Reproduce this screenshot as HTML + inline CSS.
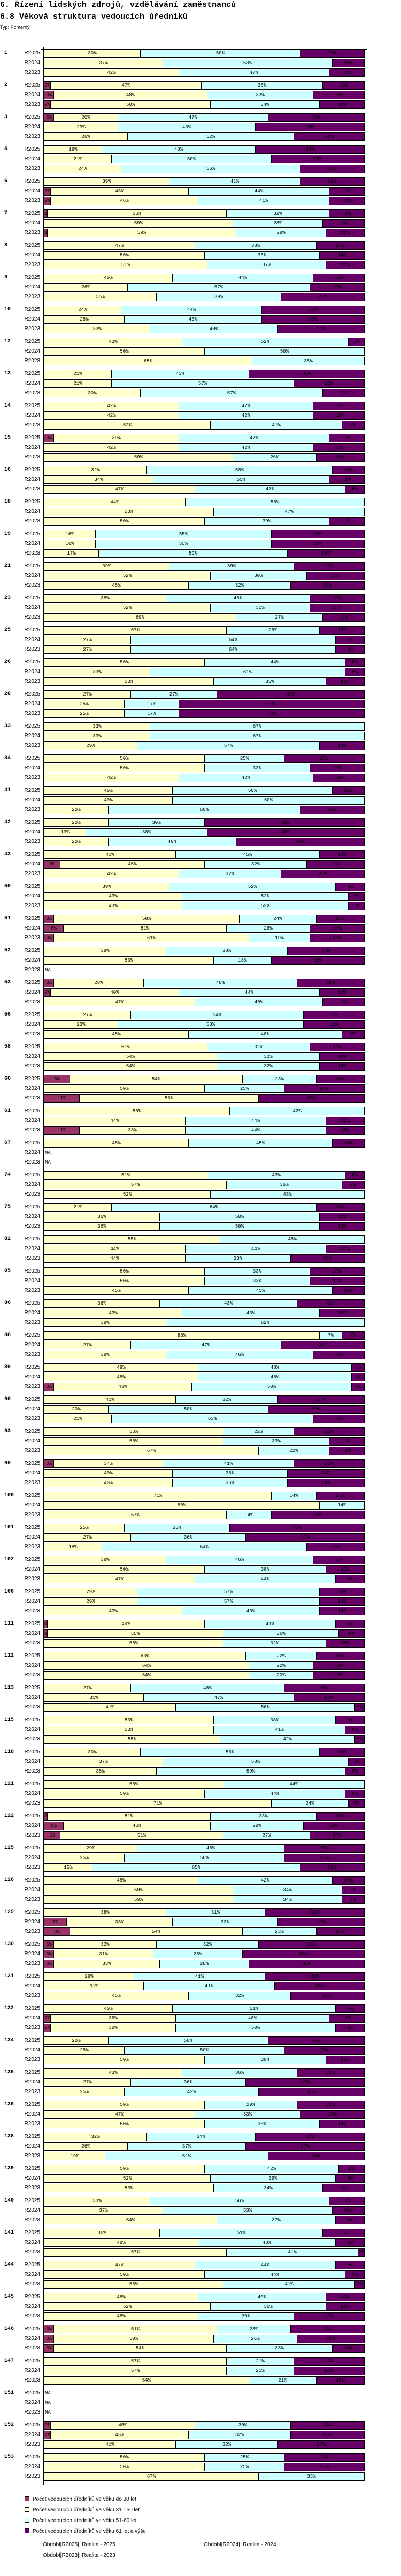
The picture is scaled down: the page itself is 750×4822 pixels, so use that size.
<!DOCTYPE html>
<html><head><meta charset="utf-8">
<style>
body{margin:0;background:#fff;width:750px;height:4822px;position:relative;overflow:hidden;font-family:"Liberation Sans",sans-serif;}
.abs{position:absolute;}
.t1{left:0;font:bold 15px "Liberation Mono",monospace;white-space:nowrap;}
.seg{position:absolute;box-sizing:border-box;border:1px solid #000;height:16px;overflow:hidden;text-align:center;font:9px/14px "Liberation Mono",monospace;color:#000;white-space:nowrap;}
.glab{position:absolute;left:8px;font:bold 10px "Liberation Mono",monospace;}
.ylab{position:absolute;left:30px;width:45px;text-align:right;font:10px "Liberation Sans",sans-serif;}
.na{position:absolute;left:84px;font:9px "Liberation Mono",monospace;}
.leg{position:absolute;left:46px;font:10px "Liberation Sans",sans-serif;white-space:nowrap;}
.leg i{display:inline-block;width:7px;height:7px;border:1px solid #000;margin-right:6px;vertical-align:-1px;}
.per{position:absolute;font:10px "Liberation Sans",sans-serif;white-space:nowrap;}
</style></head><body>
<div class="abs t1" style="top:1px">6. Řízení lidských zdrojů, vzdělávání zaměstnanců</div>
<div class="abs t1" style="top:23px">6.8 Věková struktura vedoucích úředníků</div>
<div class="abs" style="top:46px;left:0;font:9px 'Liberation Sans',sans-serif">Typ: Poměrný</div>
<div id="chart"></div>
<div class="abs" style="left:80px;top:88px;width:2px;height:4564px;background:#000"></div>
<div class="abs" style="left:76px;top:92px;width:610px;height:1px;background:#000"></div>
<div class="leg" style="top:4673px"><i style="background:#993366"></i>Počet vedoucích úředníků ve věku do 30 let</div>
<div class="leg" style="top:4693px"><i style="background:#FFFFCC"></i>Počet vedoucích úředníků ve věku 31 - 50 let</div>
<div class="leg" style="top:4713px"><i style="background:#CCFFFF"></i>Počet vedoucích úředníků ve věku 51-60 let</div>
<div class="leg" style="top:4733px"><i style="background:#660066"></i>Počet vedoucích úředníků ve věku 61 let a výše</div>
<div class="per" style="left:80px;top:4758px">Období[R2025]: Realita - 2025</div>
<div class="per" style="left:381px;top:4758px">Období[R2024]: Realita - 2024</div>
<div class="per" style="left:80px;top:4778px">Období[R2023]: Realita - 2023</div>
<script>
const groups=[1,2,3,5,6,7,8,9,10,12,13,14,15,16,18,19,21,23,25,26,28,33,34,41,42,43,50,51,52,53,56,58,60,61,67,74,75,82,85,86,88,89,90,93,96,100,101,102,106,111,112,113,115,118,121,122,125,126,129,130,131,132,134,135,136,138,139,140,141,144,145,146,147,151,152,153];
const periods=["R2025","R2024","R2023"];
const seriesColors=["#993366","#FFFFCC","#CCFFFF","#660066"];
const rows=[
[[0,30,50,20],[0,37,53,10],[0,42,47,11]],
[[2,47,38,13],[3,48,33,16],[2,50,34,14]],
[[3,20,47,30],[0,23,43,34],[0,26,52,22]],
[[0,18,48,34],[0,21,50,29],[0,24,56,20]],
[[0,39,41,20],[2,43,44,11],[2,46,41,11]],
[[1,56,32,11],[0,59,28,13],[1,59,28,12]],
[[0,47,38,15],[0,50,36,14],[0,51,37,12]],
[[0,40,44,16],[0,26,57,17],[0,35,39,26]],
[[0,24,44,32],[0,25,43,32],[0,33,40,27]],
[[0,43,52,5],[0,50,50,0],[0,65,35,0]],
[[0,21,43,36],[0,21,57,22],[0,30,57,13]],
[[0,42,42,16],[0,42,42,16],[0,52,41,7]],
[[3,39,47,11],[0,42,42,16],[0,59,26,15]],
[[0,32,58,10],[0,34,55,11],[0,47,47,6]],
[[0,44,56,0],[0,53,47,0],[0,50,39,11]],
[[0,16,55,29],[0,16,55,29],[0,17,59,24]],
[[0,39,39,22],[0,52,30,18],[0,45,32,23]],
[[0,38,45,17],[0,52,31,17],[0,60,27,13]],
[[0,57,29,14],[0,27,64,9],[0,27,64,9]],
[[0,50,44,6],[0,33,61,6],[0,53,35,12]],
[[0,27,27,46],[0,25,17,58],[0,25,17,58]],
[[0,33,67,0],[0,33,67,0],[0,29,57,14]],
[[0,50,25,25],[0,50,33,17],[0,42,42,16]],
[[0,40,50,10],[0,40,60,0],[0,20,60,20]],
[[0,20,30,50],[0,13,38,49],[0,20,40,40]],
[[0,41,45,14],[5,45,32,18],[0,42,32,26]],
[[0,39,52,9],[0,43,52,5],[0,43,52,5]],
[[3,58,24,15],[6,51,26,17],[3,61,19,17]],
[[0,38,38,24],[0,53,18,29],null],
[[3,28,48,21],[2,40,44,14],[0,47,40,13]],
[[0,27,54,19],[0,23,58,19],[0,45,48,7]],
[[0,51,32,17],[0,54,32,14],[0,54,32,14]],
[[8,54,23,15],[0,50,25,25],[11,56,0,33]],
[[0,58,42,0],[0,44,44,12],[11,33,44,12]],
[[0,45,45,10],null,null],
[[0,51,43,6],[0,57,36,7],[0,52,48,0]],
[[0,21,64,15],[0,36,50,14],[0,36,50,14]],
[[0,55,45,0],[0,44,44,12],[0,44,33,23]],
[[0,50,33,17],[0,50,33,17],[0,45,45,10]],
[[0,36,43,21],[0,43,43,14],[0,38,62,0]],
[[0,86,7,7],[0,27,47,26],[0,38,46,16]],
[[0,48,48,4],[0,48,48,4],[3,43,50,4]],
[[0,41,32,27],[0,20,50,30],[0,21,63,16]],
[[0,56,22,22],[0,56,33,11],[0,67,22,11]],
[[3,34,41,22],[0,40,36,24],[0,40,36,24]],
[[0,71,14,15],[0,86,14,0],[0,57,14,29]],
[[0,25,33,42],[0,27,36,37],[0,18,64,18]],
[[0,38,46,16],[0,50,38,12],[0,47,44,9]],
[[0,29,57,14],[0,29,57,14],[0,43,43,14]],
[[1,49,41,9],[1,55,36,8],[0,56,32,12]],
[[0,63,22,15],[0,64,20,16],[0,64,20,16]],
[[0,27,48,25],[0,31,47,22],[0,41,56,3]],
[[0,53,38,9],[0,53,41,6],[0,55,42,3]],
[[0,30,56,14],[0,37,58,5],[0,35,59,6]],
[[0,56,44,0],[0,50,44,6],[0,71,24,5]],
[[1,51,33,15],[6,46,29,19],[5,51,27,17]],
[[0,29,46,25],[0,25,50,25],[0,15,65,20]],
[[0,48,42,10],[0,59,34,7],[0,59,34,7]],
[[0,38,31,31],[7,33,33,27],[8,54,23,15]],
[[3,32,32,33],[3,31,28,38],[3,33,28,36]],
[[0,28,41,31],[0,31,41,28],[0,45,32,23]],
[[0,40,51,9],[2,39,48,11],[2,39,50,9]],
[[0,20,50,30],[0,25,50,25],[0,50,38,12]],
[[0,43,36,21],[0,27,36,37],[0,25,42,33]],
[[0,50,29,21],[0,47,33,20],[0,50,36,14]],
[[0,32,34,34],[0,26,37,37],[0,19,51,30]],
[[0,50,42,8],[0,52,39,9],[0,53,34,13]],
[[0,33,56,11],[0,37,53,10],[0,54,37,9]],
[[0,36,51,13],[0,48,43,9],[0,57,41,2]],
[[0,47,44,9],[0,50,44,6],[0,56,41,3]],
[[0,48,40,12],[0,52,36,12],[0,48,30,22]],
[[3,51,23,23],[3,50,26,21],[3,54,33,10]],
[[0,57,21,22],[0,57,21,22],[0,64,21,15]],
[null,null,null],
[[2,45,30,23],[2,43,32,23],[0,41,32,27]],
[[0,50,25,25],[0,50,25,25],[0,67,33,0]]
];
const X0=82, W=599, Y0=92, GP=60, RP=18;
function xScale(frac){return X0+frac*W;}
function yGroup(g){return Y0+g*GP;}
const chart=document.getElementById('chart');
groups.forEach(function(g,gi){
  const gl=document.createElement('div');
  gl.className='glab';gl.textContent=g;gl.style.top=(yGroup(gi)+2)+'px';
  
  
  chart.appendChild(gl);
  periods.forEach(function(p,pi){
    const y=yGroup(gi)+pi*RP;
    const yl=document.createElement('div');
    yl.className='ylab';yl.textContent=p;yl.style.top=(y+2)+'px';
    
    
    chart.appendChild(yl);
    const vals=rows[gi][pi];
    if(!vals){
      const na=document.createElement('div');
      na.className='na';na.textContent='NA';na.style.top=(y+3)+'px';
      
      
      chart.appendChild(na);return;
    }
    const sum=vals.reduce((a,b)=>a+b,0);
    let cum=0;
    vals.forEach(function(v,si){
      if(v<=0)return;
      const x1=Math.round(xScale(cum/sum));cum+=v;
      const x2=Math.round(xScale(cum/sum));
      const s=document.createElement('div');
      s.className='seg';
      s.style.left=x1+'px';s.style.top=y+'px';s.style.width=(x2-x1+1)+'px';
      s.style.background=seriesColors[si];
      s.textContent=v+'%';
      
      
      chart.appendChild(s);
    });
  });
});
</script>
</body></html>
